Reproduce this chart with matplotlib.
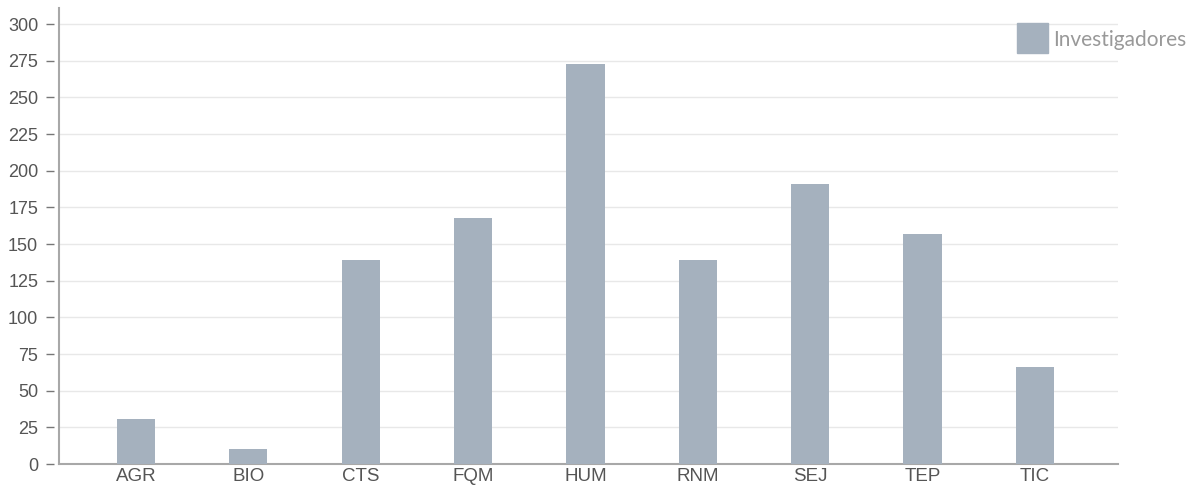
import matplotlib.pyplot as plt
from matplotlib.patches import Rectangle
from matplotlib.transforms import ScaledTranslation

categories = ["AGR", "BIO", "CTS", "FQM", "HUM", "RNM", "SEJ", "TEP", "TIC"]
investigadores = [31, 10, 139, 168, 273, 139, 191, 157, 66]
y_ticks = [0, 25, 50, 75, 100, 125, 150, 175, 200, 225, 250, 275, 300]

BAR_COLOR = "#a5b1be"
TEXT_COLOR = "#555555"
AXIS_COLOR = "#a8a8a8"

fig = plt.figure(figsize=(11.98, 4.9), dpi=100)
ax = fig.add_axes([59 / 1198, 26 / 490, (1118 - 59) / 1198, (464 - 8) / 490])

x = range(len(categories))
ax.bar(x, investigadores, width=0.34, color=BAR_COLOR, zorder=3)

ax.set_xlim(-0.685, len(categories) - 1 + 0.74)
ax.set_ylim(0, 311)
ax.set_yticks(y_ticks)
ax.set_xticks(list(x))
ax.set_xticklabels(categories)

for t in y_ticks[1:]:
    ax.axhline(t, color="#e8e8e8", lw=1, zorder=1)

for side in ["top", "right"]:
    ax.spines[side].set_visible(False)
for side in ["left", "bottom"]:
    ax.spines[side].set_color(AXIS_COLOR)
    ax.spines[side].set_linewidth(1.5)

ax.tick_params(axis="y", length=6, width=1, color="#777777", pad=9,
               labelsize=13, labelcolor=TEXT_COLOR)
ax.tick_params(axis="x", length=0, pad=3, labelsize=13.5, labelcolor=TEXT_COLOR)
for lbl in ax.get_xticklabels() + ax.get_yticklabels():
    lbl.set_family("Liberation Sans")

# small dash ticks sitting a few pixels off the axis line
shift = ScaledTranslation(-5 / 100, 0, fig.dpi_scale_trans)
for tick in ax.yaxis.get_major_ticks():
    tick.tick1line.set_transform(tick.tick1line.get_transform() + shift)

# legend
fig.patches.append(Rectangle((1017 / 1198, 1 - 53 / 490), 31 / 1198, 30 / 490,
                             transform=fig.transFigure, color=BAR_COLOR))
fig.text(1053 / 1198, 1 - 40 / 490, "Investigadores", family="Lato",
         fontsize=15, color="#999999", va="center", ha="left")

fig.savefig("out.png", dpi=100)
